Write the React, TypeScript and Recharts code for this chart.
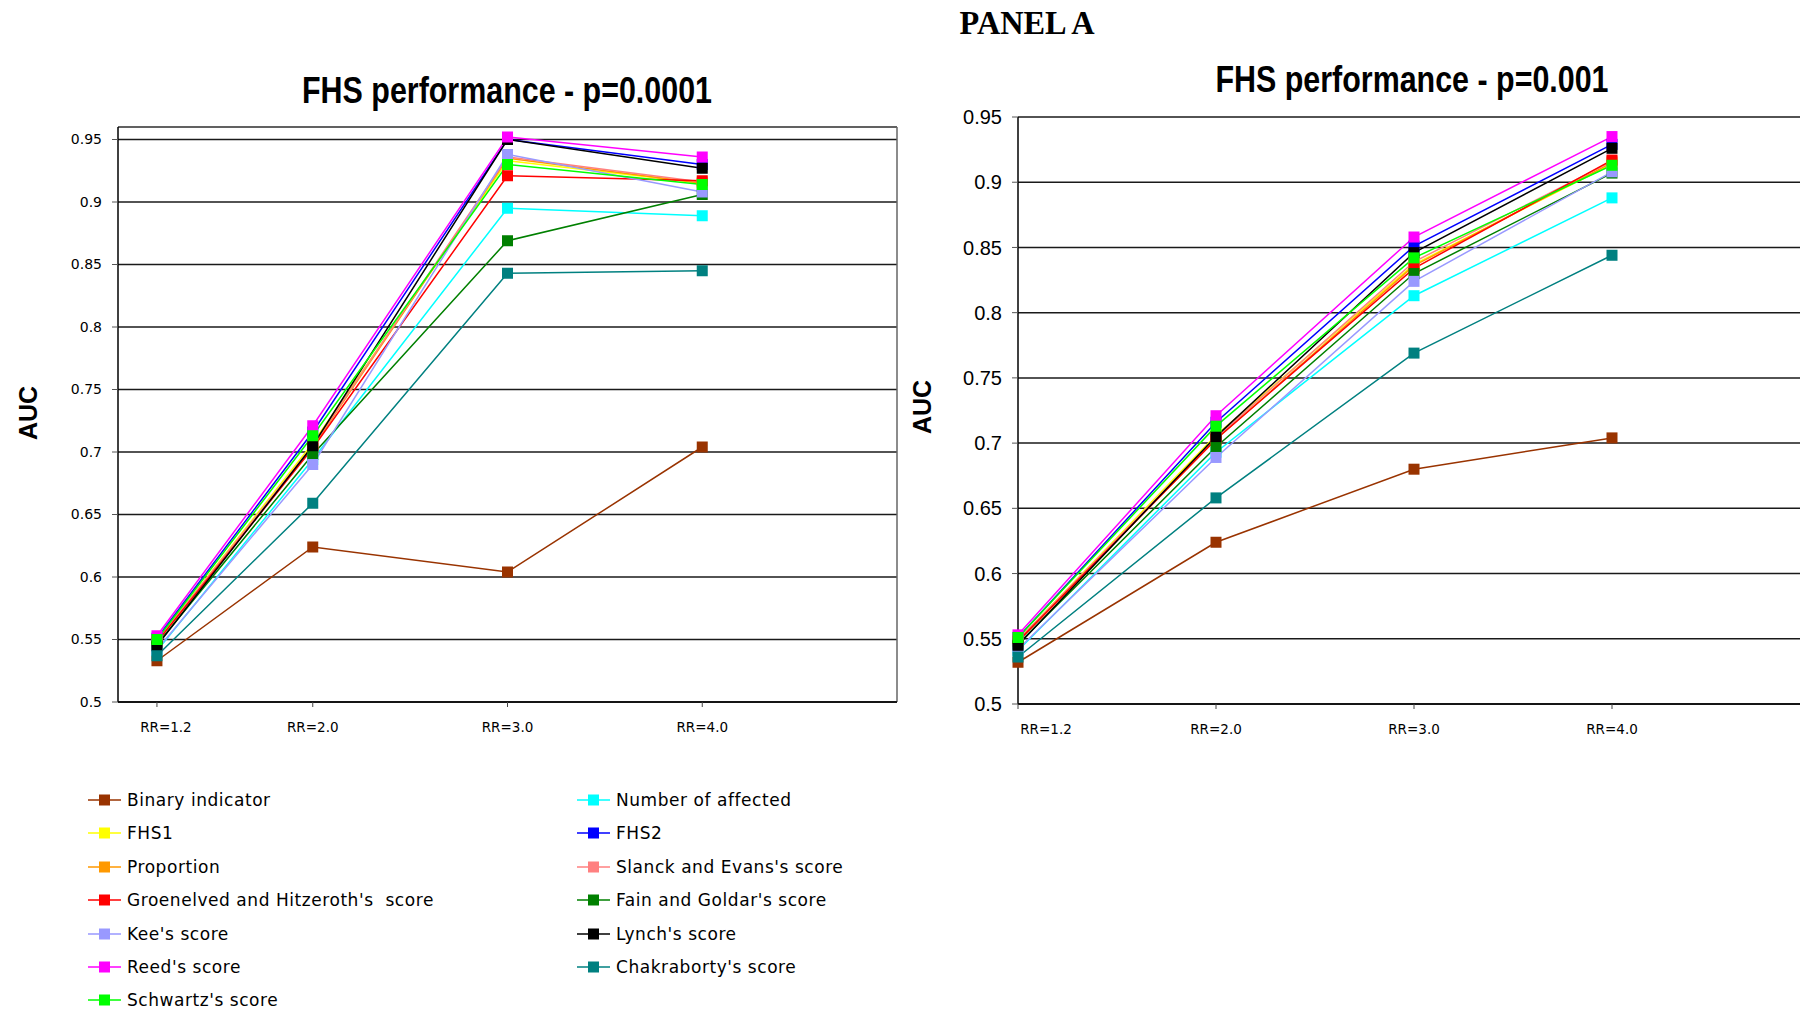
import { LineChart, Line, XAxis, YAxis, CartesianGrid, ReferenceLine } from 'recharts';

// series, in legend order (row by row, two columns)
const seriesNames = [
  'Binary indicator',
  'Number of affected',
  'FHS1',
  'FHS2',
  'Proportion',
  "Slanck and Evans's score",
  "Groenelved and Hitzeroth's  score",
  "Fain and Goldar's score",
  "Kee's score",
  "Lynch's score",
  "Reed's score",
  "Chakraborty's score",
  "Schwartz's score",
];

const seriesColors = [
  '#993300', '#00FFFF', '#FFFF00', '#0000FF', '#FF9900', '#FF8080', '#FF0000',
  '#008000', '#9999FF', '#000000', '#FF00FF', '#008080', '#00FF00',
];

const rrValues = [1.2, 2.0, 3.0, 4.0];
const rrLabels = ['RR=1.2', 'RR=2.0', 'RR=3.0', 'RR=4.0'];
const aucTicks = [0.5, 0.55, 0.6, 0.65, 0.7, 0.75, 0.8, 0.85, 0.9, 0.95];

// AUC at p=0.0001, one row per series, columns RR=1.2 / 2.0 / 3.0 / 4.0
const aucP0001 = [
  [0.533, 0.624, 0.604, 0.704],
  [0.541, 0.694, 0.895, 0.889],
  [0.549, 0.707, 0.933, 0.915],
  [0.551, 0.716, 0.950, 0.930],
  [0.548, 0.704, 0.935, 0.915],
  [0.549, 0.705, 0.936, 0.916],
  [0.548, 0.703, 0.921, 0.917],
  [0.546, 0.698, 0.869, 0.906],
  [0.542, 0.690, 0.938, 0.908],
  [0.545, 0.705, 0.950, 0.927],
  [0.553, 0.721, 0.952, 0.936],
  [0.537, 0.659, 0.843, 0.845],
  [0.550, 0.713, 0.930, 0.914],
];

// AUC at p=0.001
const aucP001 = [
  [0.532, 0.624, 0.680, 0.704],
  [0.541, 0.693, 0.813, 0.888],
  [0.549, 0.706, 0.837, 0.914],
  [0.551, 0.716, 0.851, 0.929],
  [0.548, 0.703, 0.836, 0.915],
  [0.549, 0.704, 0.839, 0.916],
  [0.548, 0.703, 0.834, 0.917],
  [0.546, 0.697, 0.830, 0.907],
  [0.542, 0.689, 0.824, 0.908],
  [0.545, 0.705, 0.846, 0.926],
  [0.553, 0.721, 0.858, 0.935],
  [0.536, 0.658, 0.769, 0.844],
  [0.551, 0.713, 0.842, 0.913],
];

const buildRows = (values: number[][]) =>
  rrValues.map((rr, i) => {
    const row: Record<string, number> = { rr, idx: i };
    values.forEach((v, s) => {
      row[`s${s}`] = v[i];
    });
    return row;
  });

const fmtAuc = (v: number) => String(+v.toFixed(2));

interface PanelProps {
  values: number[][];
  xKey: 'rr' | 'idx';
  xDomain: [number, number];
  xTicks: number[];
  yMax: number;
  width: number;
  height: number;
  top: number;
  yFont: string;
  yFontSize: number;
  firstLabelShift: number;
  boxed: boolean;
}

function Panel(p: PanelProps) {
  const rows = buildRows(p.values);

  const XTick = (t: any) => {
    const i = t.index as number;
    return (
      <text
        x={t.x + (i === 0 ? p.firstLabelShift : 0)}
        y={t.y + 18}
        textAnchor="middle"
        dominantBaseline="central"
        fontFamily="'DejaVu Sans', Verdana, sans-serif"
        fontSize={13.5}
        fill="#000"
      >
        {rrLabels[i]}
      </text>
    );
  };

  return (
    <LineChart
      width={p.width}
      height={p.height}
      data={rows}
      margin={{ top: p.top, right: p.boxed ? 10 : 0, bottom: 0, left: 0 }}
    >
      <CartesianGrid vertical={false} stroke="#1a1a1a" strokeWidth={1.5} />
      <XAxis
        dataKey={p.xKey}
        type="number"
        domain={p.xDomain}
        ticks={p.xTicks}
        interval={0}
        height={40}
        tick={XTick}
        tickSize={5}
        axisLine={{ stroke: '#000', strokeWidth: 1.5 }}
        tickLine={{ stroke: '#444' }}
      />
      <YAxis
        type="number"
        domain={[0.5, p.yMax]}
        ticks={aucTicks}
        interval={0}
        width={118}
        tickSize={6}
        tickMargin={10}
        tickFormatter={fmtAuc}
        axisLine={{ stroke: '#000', strokeWidth: 1.5 }}
        tickLine={{ stroke: '#555' }}
        tick={{ fill: '#000', fontSize: p.yFontSize, fontFamily: p.yFont }}
      />
      {p.boxed && <ReferenceLine y={p.yMax} stroke="#666" strokeWidth={1.5} />}
      {p.boxed && <ReferenceLine x={p.xDomain[1]} stroke="#666" strokeWidth={1.5} />}
      {seriesNames.map((name, s) => (
        <Line
          key={name}
          name={name}
          dataKey={`s${s}`}
          stroke={seriesColors[s]}
          strokeWidth={1.5}
          isAnimationActive={false}
          dot={(d: any) => (
            <rect
              key={`d${s}-${d.index}`}
              x={d.cx - 5.5}
              y={d.cy - 5.5}
              width={11}
              height={11}
              fill={seriesColors[s]}
            />
          )}
          activeDot={false}
        />
      ))}
    </LineChart>
  );
}

const abs = (left: number, top: number): React.CSSProperties => ({
  position: 'absolute',
  left,
  top,
});

function Title({ x, y, text }: { x: number; y: number; text: string }) {
  return (
    <div
      style={{
        ...abs(x, y),
        transform: 'translate(-50%, -50%) scaleX(0.845)',
        whiteSpace: 'nowrap',
        fontFamily: "'Liberation Sans', Arial, sans-serif",
        fontWeight: 700,
        fontSize: 36,
        color: '#000',
      }}
    >
      {text}
    </div>
  );
}

function AucLabel({ x, y }: { x: number; y: number }) {
  return (
    <div
      style={{
        ...abs(x, y),
        transform: 'translate(-50%, -50%) rotate(-90deg)',
        fontFamily: "'Liberation Sans', Arial, sans-serif",
        fontWeight: 700,
        fontSize: 25,
        color: '#000',
      }}
    >
      AUC
    </div>
  );
}

function LegendBlock() {
  const colX = [88, 577];
  return (
    <>
      {seriesNames.map((name, s) => {
        const col = s % 2;
        const row = Math.floor(s / 2);
        const x = colX[col];
        const y = 800 + row * 33.4;
        return (
          <div key={name} style={{ ...abs(x, y - 12), height: 24, display: 'flex', alignItems: 'center' }}>
            <svg width={34} height={24}>
              <line x1={0} y1={12} x2={33} y2={12} stroke={seriesColors[s]} strokeWidth={1.5} />
              <rect x={11} y={6.5} width={11} height={11} fill={seriesColors[s]} />
            </svg>
            <span
              style={{
                marginLeft: 5,
                whiteSpace: 'pre',
                fontFamily: "'DejaVu Sans', Verdana, sans-serif",
                fontSize: 17,
                letterSpacing: 0.55,
                color: '#000',
              }}
            >
              {name}
            </span>
          </div>
        );
      })}
    </>
  );
}

export default function App() {
  return (
    <div
      style={{
        position: 'absolute',
        left: 0,
        top: 0,
        width: 1800,
        height: 1010,
        overflow: 'hidden',
        background: '#fff',
      }}
    >
      <div
        style={{
          ...abs(1027, 23),
          transform: 'translate(-50%, -50%) scaleX(0.95)',
          fontFamily: "'Liberation Serif', 'Times New Roman', serif",
          fontWeight: 700,
          fontSize: 34,
          whiteSpace: 'nowrap',
        }}
      >
        PANEL A
      </div>

      <Title x={507} y={91} text="FHS performance - p=0.0001" />
      <Title x={1412} y={80} text="FHS performance - p=0.001" />

      <AucLabel x={28} y={413} />
      <AucLabel x={922} y={407} />

      <div style={abs(0, 0)}>
        <Panel
          values={aucP0001}
          xKey="rr"
          xDomain={[1, 5]}
          xTicks={rrValues}
          yMax={0.96}
          width={907}
          height={742}
          top={127}
          yFont="'DejaVu Sans', Verdana, sans-serif"
          yFontSize={14}
          firstLabelShift={9}
          boxed
        />
      </div>

      <div style={abs(900, 0)}>
        <Panel
          values={aucP001}
          xKey="idx"
          xDomain={[0, 4]}
          xTicks={[0, 1, 2, 3]}
          yMax={0.95}
          width={910}
          height={744}
          top={117}
          yFont="'Liberation Sans', Arial, sans-serif"
          yFontSize={20}
          firstLabelShift={28}
          boxed={false}
        />
      </div>

      <LegendBlock />
    </div>
  );
}
